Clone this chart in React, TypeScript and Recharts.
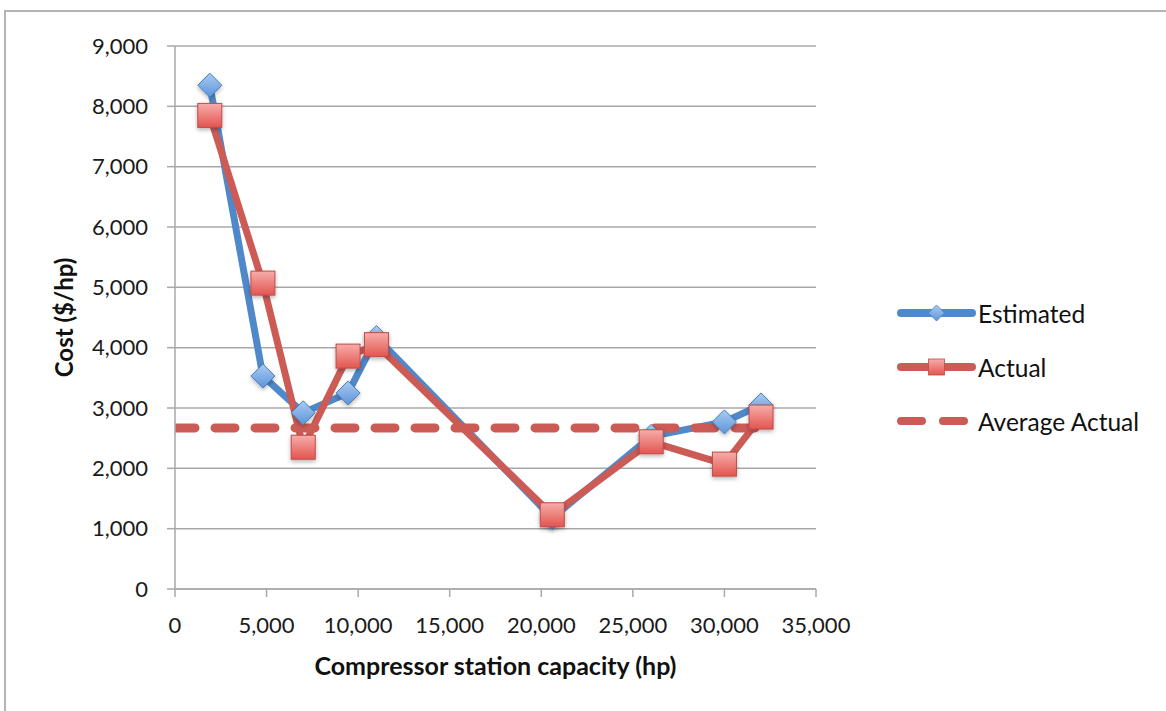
import React from 'react';
import { LineChart, Line, XAxis, YAxis, CartesianGrid } from 'recharts';

// Compressor station capacity (hp) for each observed project
const capacity = [1900, 4800, 7000, 9450, 11000, 20600, 26000, 30000, 32000];
// Cost per horsepower ($/hp)
const estimated = [8350, 3530, 2920, 3250, 4170, 1180, 2530, 2770, 3050];
const actual = [7850, 5070, 2350, 3860, 4050, 1230, 2440, 2070, 2850];
// Average of actual cost, drawn as a flat dashed reference series
const averageActual = 2670;
const averageSpan = [0, 32000];

const xTicks = [0, 5000, 10000, 15000, 20000, 25000, 30000, 35000];
const yTicks = [0, 1000, 2000, 3000, 4000, 5000, 6000, 7000, 8000, 9000];

const rows = capacity.map((c, i) => ({ capacity: c, estimated: estimated[i], actual: actual[i] }));
const avgRows = averageSpan.map((c) => ({ capacity: c, average: averageActual }));

const FONT = 'Lato, "Open Sans", sans-serif';
const BLUE = '#5089CA';
const RED = '#CC5B56';
const GRID = '#A8A8A8';

const fmt = (v: number) => v.toLocaleString('en-US');

const Diamond = (p: any) => {
  const { cx, cy } = p;
  if (cx == null || cy == null) return <g key={p.key} />;
  const r = 12;
  return (
    <path
      key={`est-${p.index}`}
      d={`M${cx},${cy - r} L${cx + r},${cy} L${cx},${cy + r} L${cx - r},${cy} Z`}
      fill="url(#gradBlue)"
      stroke="#4A7EBB"
      strokeWidth={1}
      filter="url(#markShadow)"
    />
  );
};

const Square = (p: any) => {
  const { cx, cy } = p;
  if (cx == null || cy == null) return <g key={p.key} />;
  const h = 12;
  return (
    <rect
      key={`act-${p.index}`}
      x={cx - h}
      y={cy - h}
      width={h * 2}
      height={h * 2}
      fill="url(#gradRed)"
      stroke="#BE4B48"
      strokeWidth={1}
      filter="url(#markShadow)"
    />
  );
};

const XTitle = (props: any) => {
  const vb = props.viewBox || { x: 175, y: 589, width: 641, height: 100 };
  return (
    <text
      x={vb.x + vb.width / 2}
      y={vb.y + 86}
      textAnchor="middle"
      fontFamily={FONT}
      fontWeight={700}
      fontSize={25}
      fill="#111"
    >
      Compressor station capacity (hp)
    </text>
  );
};

const YTitle = (props: any) => {
  const vb = props.viewBox || { x: 95, y: 46, width: 80, height: 543 };
  const cx = 63;
  const cy = vb.y + vb.height / 2;
  return (
    <text
      x={cx}
      y={cy}
      transform={`rotate(-90 ${cx} ${cy})`}
      textAnchor="middle"
      dominantBaseline="central"
      fontFamily={FONT}
      fontWeight={700}
      fontSize={24}
      fill="#111"
    >
      Cost ($/hp)
    </text>
  );
};

const legendItems = [
  { name: 'Estimated', kind: 'diamond' },
  { name: 'Actual', kind: 'square' },
  { name: 'Average Actual', kind: 'dash' },
];

const Legend = () => (
  <svg width={1166} height={711} style={{ position: 'absolute', left: 0, top: 0, pointerEvents: 'none' }}>
    {legendItems.map((it, i) => {
      const y = 313 + i * 54;
      const x0 = 901;
      const x1 = 972;
      const mid = (x0 + x1) / 2;
      return (
        <g key={it.name}>
          {it.kind === 'dash' ? (
            <line x1={x0} x2={x1} y1={y} y2={y} stroke={RED} strokeWidth={8} strokeLinecap="round" strokeDasharray="21 21" />
          ) : (
            <line x1={x0} x2={x1} y1={y} y2={y} stroke={it.kind === 'diamond' ? BLUE : RED} strokeWidth={8} strokeLinecap="round" />
          )}
          {it.kind === 'diamond' && (
            <path d={`M${mid},${y - 8} L${mid + 8},${y} L${mid},${y + 8} L${mid - 8},${y} Z`} fill="url(#gradBlueL)" stroke="#4A7EBB" strokeWidth={0.8} />
          )}
          {it.kind === 'square' && (
            <rect x={mid - 8} y={y - 8} width={16} height={16} fill="url(#gradRedL)" stroke="#BE4B48" strokeWidth={0.8} />
          )}
          <text x={978} y={y} dominantBaseline="central" fontFamily={FONT} fontSize={24.5} fill="#111">
            {it.name}
          </text>
        </g>
      );
    })}
    <defs>
      <linearGradient id="gradBlueL" x1="0" y1="0" x2="0" y2="1">
        <stop offset="0%" stopColor="#A9CBF2" />
        <stop offset="100%" stopColor="#5C95DA" />
      </linearGradient>
      <linearGradient id="gradRedL" x1="0" y1="0" x2="0" y2="1">
        <stop offset="0%" stopColor="#F7ADAA" />
        <stop offset="100%" stopColor="#E2554F" />
      </linearGradient>
    </defs>
  </svg>
);

export default function App() {
  return (
    <div style={{ position: 'absolute', left: 0, top: 0, width: 1166, height: 711, background: '#fff' }}>
      <div
        style={{
          position: 'absolute',
          left: 4,
          top: 10,
          width: 1162,
          height: 701,
          borderTop: '2px solid #B4B4B4',
          borderLeft: '2px solid #B4B4B4',
          boxSizing: 'border-box',
        }}
      />
      <div style={{ position: 'absolute', left: 0, top: 0 }}>
        <LineChart width={1166} height={711} data={rows} margin={{ top: 46, right: 350, bottom: 22, left: 95 }}>
          <defs>
            <linearGradient id="gradBlue" x1="0" y1="0" x2="0" y2="1">
              <stop offset="0%" stopColor="#A9CBF2" />
              <stop offset="100%" stopColor="#5C95DA" />
            </linearGradient>
            <linearGradient id="gradRed" x1="0" y1="0" x2="0" y2="1">
              <stop offset="0%" stopColor="#F7ADAA" />
              <stop offset="100%" stopColor="#E2554F" />
            </linearGradient>
            <filter id="markShadow" x="-50%" y="-50%" width="200%" height="200%">
              <feDropShadow dx="0" dy="2" stdDeviation="2" floodColor="#000" floodOpacity="0.3" />
            </filter>
          </defs>
          <CartesianGrid vertical={false} stroke={GRID} strokeWidth={1.5} />
          <XAxis
            type="number"
            dataKey="capacity"
            domain={[0, 35000]}
            ticks={xTicks}
            tickFormatter={fmt}
            allowDataOverflow
            height={100}
            stroke={GRID}
            strokeWidth={1.5}
            tickSize={8}
            tickMargin={20}
            tick={{ fontFamily: FONT, fontSize: 22, fill: '#1A1A1A' }}
            label={<XTitle />}
          />
          <YAxis
            type="number"
            domain={[0, 9000]}
            ticks={yTicks}
            tickFormatter={fmt}
            width={80}
            stroke={GRID}
            strokeWidth={1.5}
            tickSize={8}
            tickMargin={19}
            tick={{ fontFamily: FONT, fontSize: 22, fill: '#1A1A1A' }}
            label={<YTitle />}
          />
          <Line
            type="linear"
            dataKey="estimated"
            name="Estimated"
            stroke={BLUE}
            strokeWidth={7}
            strokeLinejoin="round"
            dot={Diamond}
            activeDot={false}
            isAnimationActive={false}
          />
          <Line
            type="linear"
            dataKey="actual"
            name="Actual"
            stroke={RED}
            strokeWidth={7}
            strokeLinejoin="round"
            dot={Square}
            activeDot={false}
            isAnimationActive={false}
          />
          <Line
            type="linear"
            data={avgRows}
            dataKey="average"
            name="Average Actual"
            stroke={RED}
            strokeWidth={9}
            strokeLinecap="round"
            strokeDasharray="20 20"
            dot={false}
            activeDot={false}
            isAnimationActive={false}
          />
        </LineChart>
      </div>
      <Legend />
    </div>
  );
}
